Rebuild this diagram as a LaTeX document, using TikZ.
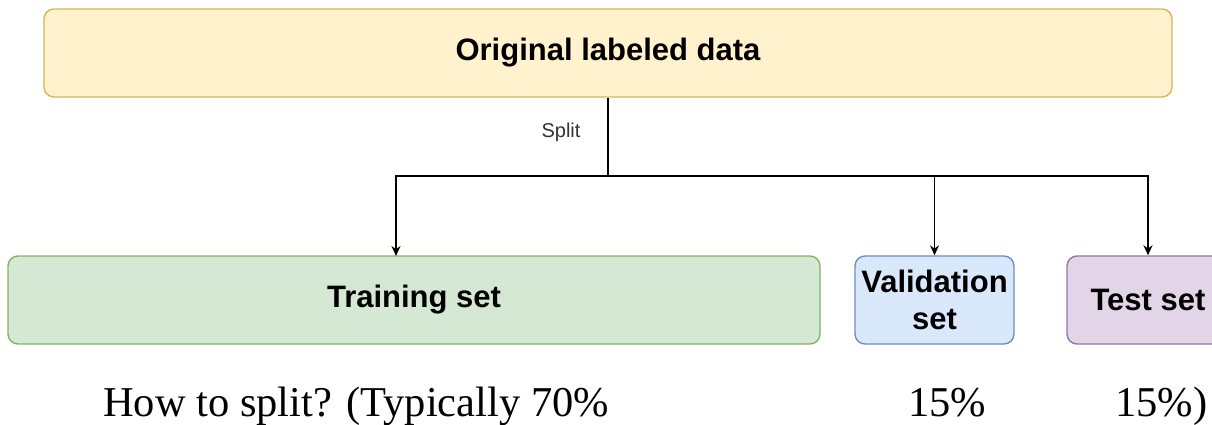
\documentclass[tikz,border=0pt]{standalone}
\usepackage{fontspec}
\setmainfont{Liberation Serif}
\newfontfamily\drawfont{Liberation Sans}
\usetikzlibrary{arrows.meta}
\definecolor{yfill}{HTML}{FFF2CC}\definecolor{ydraw}{HTML}{D6B656}
\definecolor{gfill}{HTML}{D5E8D4}\definecolor{gdraw}{HTML}{82B366}
\definecolor{bfill}{HTML}{DAE8FC}\definecolor{bdraw}{HTML}{6C8EBF}
\definecolor{pfill}{HTML}{E1D5E7}\definecolor{pdraw}{HTML}{9673A6}
\definecolor{lblgray}{HTML}{333333}
\tikzset{
  box/.style={rounded corners=10pt, line width=1.4pt, inner sep=0pt,
    minimum height=88pt, align=center,
    font=\drawfont\fontsize{31pt}{37pt}\selectfont\bfseries},
  conn/.style={line width=1.4pt, draw=black},
  arr/.style={conn, -{Stealth[length=10pt,width=9pt]}},
  bottomtxt/.style={anchor=base west, inner sep=0pt, font=\fontsize{42.5pt}{48pt}\selectfont},
}
\begin{document}
\begin{tikzpicture}[x=1pt,y=-1pt]
\useasboundingbox (0,0) rectangle (1212,425);
\path[clip] (0,0) rectangle (1212,425);
\node[box, fill=yfill, draw=ydraw, minimum width=1128pt] (orig) at (608,53) {Original labeled data};
\node[box, fill=gfill, draw=gdraw, minimum width=812pt] (train) at (414,300) {Training set};
\node[box, fill=bfill, draw=bdraw, minimum width=159pt] (val) at (934.5,300) {Validation\\set};
\node[box, fill=pfill, draw=pdraw, minimum width=162pt] (test) at (1148,300) {Test set};
\coordinate (j) at (608,176);
\coordinate (ta) at (396,256);
\draw[conn] (orig.south) -- (j);
\draw[arr] (j) -| (ta);
\draw[arr] (j) -| (val.north);
\draw[arr] (j) -| (test.north);
\node[text=lblgray, font=\drawfont\fontsize{20pt}{24pt}\selectfont, inner sep=0pt] (split) at (561,132) {Split};
\node[bottomtxt] (how) at (103,416) {How to split? (Typically 70\%};
\node[bottomtxt, anchor=base] (p15a) at (947,416) {15\%};
\node[bottomtxt] (p15b) at (1115,416) {15\%)};
\end{tikzpicture}
\end{document}
